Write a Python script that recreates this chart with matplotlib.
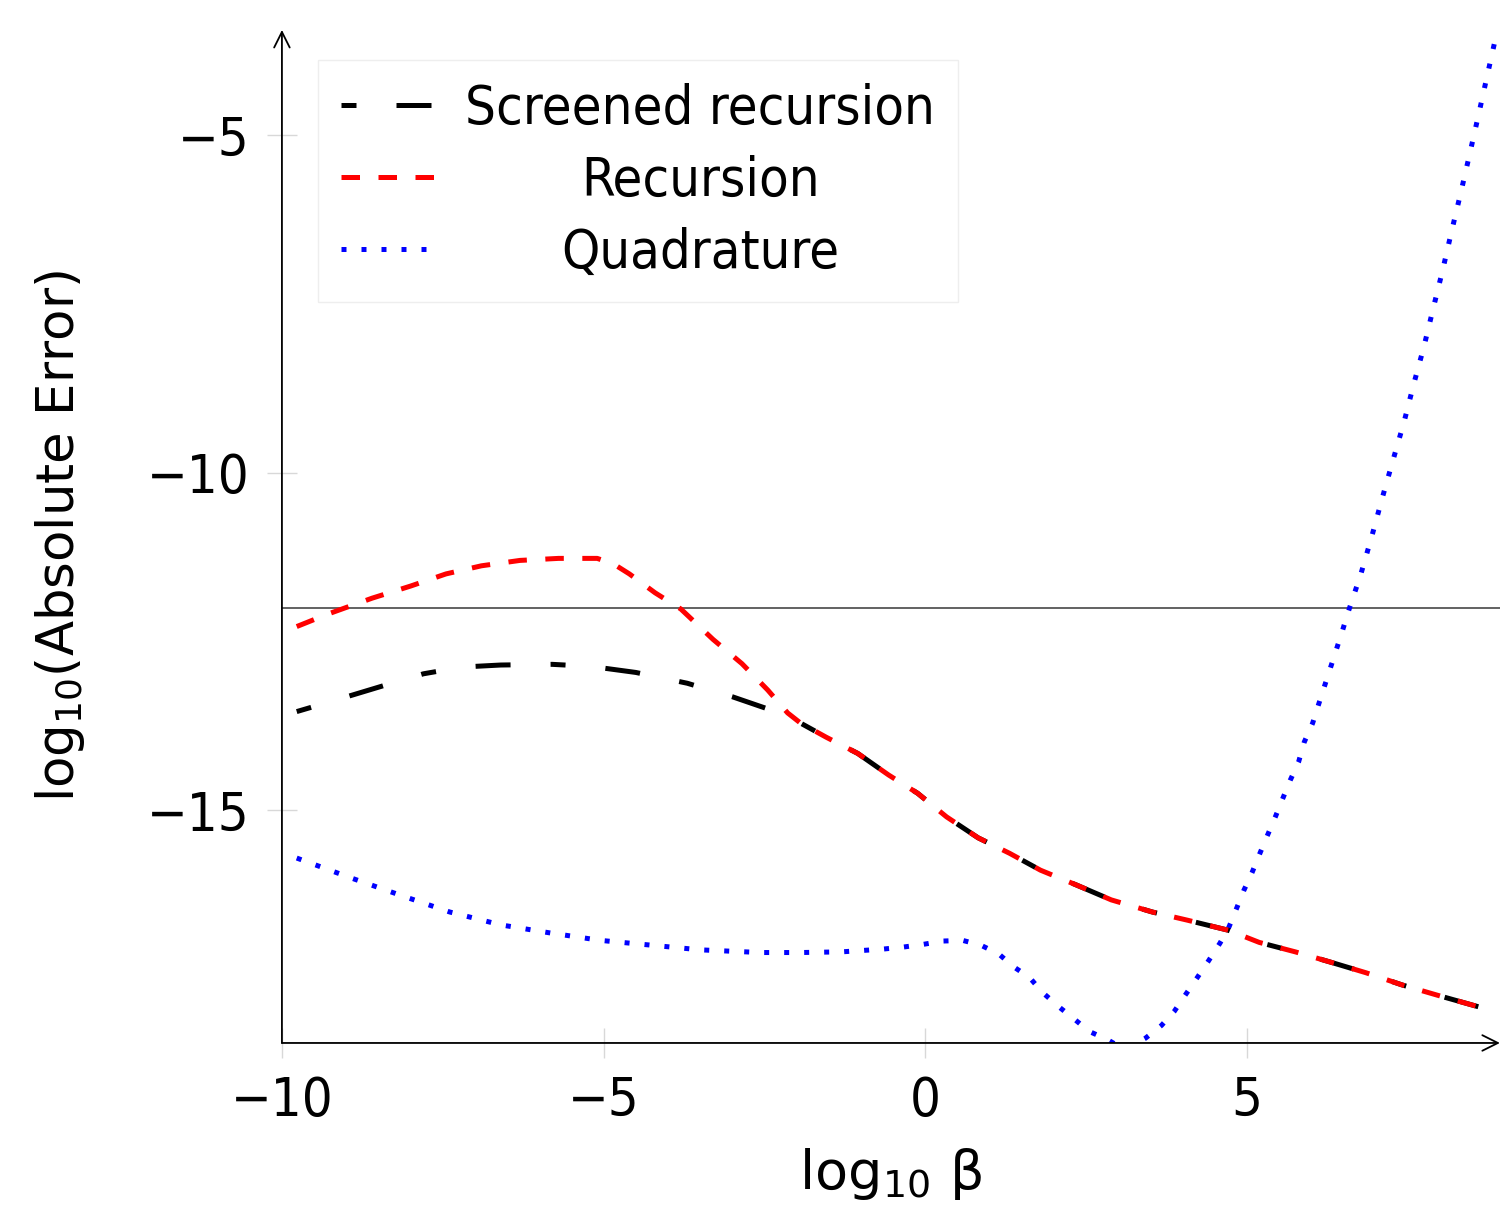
import matplotlib
matplotlib.use('Agg')
import matplotlib.pyplot as plt
from matplotlib.transforms import IdentityTransform

plt.rcParams['font.family'] = ['DejaVu Sans']
plt.rcParams['mathtext.fontset'] = 'dejavusans'

# ---------------- data ----------------
screened_x = [-9.77, -9.2, -8.4, -7.8, -7.2, -6.6, -5.8, -5.2, -4.5, -3.7, -3.0, -2.45,
              -1.94, -1.54, -1.05, -0.57, -0.12, 0.33, 0.82, 1.31, 1.79, 2.35, 2.89,
              3.53, 4.07, 4.71, 5.19, 5.75, 6.29, 6.85, 7.41, 7.95, 8.62, 8.71]
screened_y = [-13.54, -13.38, -13.15, -12.98, -12.88, -12.85, -12.84, -12.87, -12.96, -13.12,
              -13.32, -13.5, -13.71, -13.92, -14.16, -14.48, -14.75, -15.1, -15.41, -15.64,
              -15.89, -16.11, -16.33, -16.51, -16.63, -16.78, -16.96, -17.1, -17.25, -17.41,
              -17.59, -17.74, -17.92, -17.96]

recursion_x = [-9.77, -9.3, -8.6, -8.0, -7.45, -6.9, -6.3, -5.7, -5.1, -4.85, -4.6, -4.2,
               -3.8, -3.3, -2.85, -2.45, -2.14,
               -1.94, -1.54, -1.05, -0.57, -0.12, 0.33, 0.82, 1.31, 1.79, 2.35, 2.89,
               3.53, 4.07, 4.71, 5.19, 5.75, 6.29, 6.85, 7.41, 7.95, 8.62, 8.71]
recursion_y = [-12.28, -12.1, -11.86, -11.68, -11.5, -11.38, -11.3, -11.27, -11.27, -11.35,
               -11.5, -11.78, -12.02, -12.47, -12.83, -13.22, -13.56,
               -13.71, -13.92, -14.16, -14.48, -14.75, -15.1, -15.41, -15.64,
               -15.89, -16.11, -16.33, -16.51, -16.63, -16.78, -16.96, -17.1, -17.25, -17.41,
               -17.59, -17.74, -17.92, -17.96]

quad_x = [-9.77, -8.94, -8.16, -7.39, -6.6, -5.83, -5.05, -4.27, -3.5, -2.56, -1.94, -1.3,
          -0.67, -0.35, -0.04, 0.27, 0.58, 0.86, 1.14, 1.37, 1.62, 1.82, 2.07, 2.32, 2.55,
          2.83, 3.1, 3.42, 3.67, 3.87, 4.04, 4.22, 4.39, 4.58, 4.72, 4.84, 4.95, 5.08, 5.2,
          5.31, 5.44, 5.55, 5.67, 5.8, 5.89, 6.02, 6.11, 6.48, 6.57, 6.77, 6.94, 7.1, 7.27,
          7.44, 7.59, 7.75, 7.89, 8.04, 8.18, 8.32, 8.46, 8.6, 8.73, 8.87]
quad_y = [-15.71, -16.0, -16.26, -16.51, -16.7, -16.82, -16.93, -17.0, -17.07, -17.11, -17.11,
          -17.1, -17.06, -17.03, -16.99, -16.94, -16.93, -17.0, -17.13, -17.32, -17.48, -17.7,
          -17.91, -18.1, -18.28, -18.4, -18.55, -18.38, -18.19, -17.98, -17.74, -17.49, -17.25,
          -16.97, -16.73, -16.45, -16.19, -15.92, -15.64, -15.39, -15.1, -14.84, -14.56,
          -14.29, -13.99, -13.71, -13.44, -12.35, -12.07, -11.5, -10.94, -10.38, -9.81, -9.25,
          -8.69, -8.13, -7.58, -7.0, -6.42, -5.86, -5.28, -4.69, -4.13, -3.53]

threshold = -12.0
series_labels = ['Screened recursion', 'Recursion', 'Quadrature']
x_ticks = [-10, -5, 0, 5]
y_ticks = [-15, -10, -5]

# ---------------- figure ----------------
fig = plt.figure(figsize=(15.02, 12.07), dpi=100)
ax = fig.add_axes([0.1877, 0.1359, 0.8109, 0.8393])

FS = 39
lw = 3.6
l_quad, = ax.plot(quad_x, quad_y, color='#0000ff', lw=lw, dashes=(1, 3),
                  dash_capstyle='butt', zorder=3)
l_scr, = ax.plot(screened_x, screened_y, color='black', lw=lw, dashes=(3, 8, 7, 8),
                 dash_capstyle='butt', zorder=4)
l_rec, = ax.plot(recursion_x, recursion_y, color='#ff0000', lw=lw, dashes=(3.7, 3.7),
                 dash_capstyle='butt', zorder=5)
ax.axhline(threshold, color='#555555', lw=1.3, zorder=2)

ax.set_xlim(-10, 8.93)
ax.set_ylim(-18.45, -3.44)
ax.set_xticks(x_ticks)
ax.set_yticks(y_ticks)

for s in ax.spines.values():
    s.set_visible(False)
arrow = dict(arrowstyle='->', lw=1.3, color='black', mutation_scale=28, shrinkA=0, shrinkB=0)
ax.annotate('', xy=(1, 0), xytext=(0, 0), xycoords='axes fraction', arrowprops=arrow,
            annotation_clip=False, zorder=6)
ax.annotate('', xy=(0, 1), xytext=(0, 0), xycoords='axes fraction', arrowprops=arrow,
            annotation_clip=False, zorder=6)

ax.tick_params(axis='both', direction='inout', length=22, width=1.0, color='#d8d8d8',
               labelsize=FS)
ax.tick_params(axis='x', pad=12)
ax.tick_params(axis='y', pad=12)
for lab in ax.get_xticklabels() + ax.get_yticklabels():
    lab.set_fontstretch('condensed')

ax.set_xlabel(r'$\mathregular{log_{10}}\ \mathregular{β}$', fontsize=FS, va='top')
ax.xaxis.set_label_coords(0.5, -0.102)
ax.set_ylabel(r'$\mathregular{log_{10}}$(Absolute Error)', fontsize=37)
ax.yaxis.set_label_coords(-0.16, 0.5)

leg = ax.legend([l_scr, l_rec, l_quad], series_labels, loc='upper left',
                bbox_to_anchor=(0.0296, 0.9704), borderaxespad=0,
                prop=dict(size=FS, stretch='condensed'),
                handlelength=1.85, handletextpad=0.45, labelspacing=0.37, borderpad=0.42,
                frameon=True, fancybox=False, framealpha=1, edgecolor='#eeeeee')
leg.get_frame().set_linewidth(1.0)

# centre the legend labels on the widest one
fig.canvas.draw()
texts = leg.get_texts()
bbs = [t.get_window_extent() for t in texts]
cx = (bbs[0].x0 + bbs[0].x1) / 2
for t, b in zip(texts, bbs):
    t.set_visible(False)
    fig.text(cx, b.y0, t.get_text(), transform=IdentityTransform(), ha='center', va='bottom',
             fontsize=FS, fontstretch='condensed', zorder=10)

fig.savefig('out.png', dpi=100)
